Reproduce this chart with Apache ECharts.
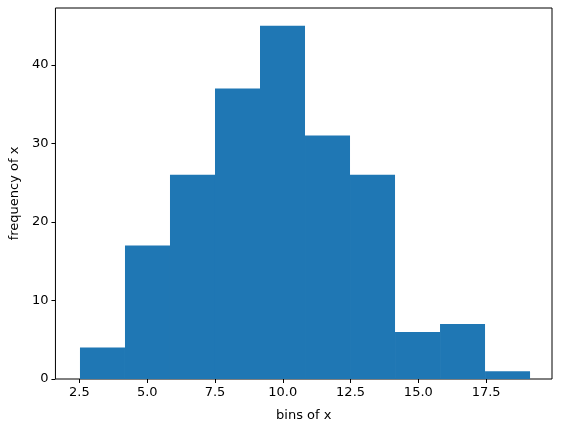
<!DOCTYPE html>
<html><head><meta charset="utf-8">
<script src="https://cdn.jsdelivr.net/npm/echarts@6/dist/echarts.min.js"></script>
<style>html,body{margin:0;padding:0;background:#fff}#c{width:562px;height:432px}</style>
</head><body><div id="c"></div>
<script>
const binEdges = [2.52, 4.18, 5.84, 7.50, 9.16, 10.82, 12.48, 14.14, 15.80, 17.46, 19.12];
const counts = [4, 17, 26, 37, 45, 31, 26, 6, 7, 1];
const xTicks = [2.5, 5.0, 7.5, 10.0, 12.5, 15.0, 17.5];
const yTicks = [0, 10, 20, 30, 40];

const data = counts.map((c, i) => [binEdges[i], binEdges[i + 1], c]);
const font = {fontFamily: 'DejaVu Sans', fontSize: 13, color: '#000'};
const chart = echarts.init(document.getElementById('c'));
chart.setOption({
  animation: false,
  grid: {left: 55, right: 10, top: 8, bottom: 53, show: true, borderColor: '#000', borderWidth: 1, backgroundColor: 'transparent'},
  xAxis: {
    type: 'value', min: 1.615, max: 19.93,
    name: 'bins of x', nameLocation: 'middle', nameGap: 30, nameTextStyle: font,
    axisLine: {show: false}, splitLine: {show: false},
    axisTick: {show: true, customValues: xTicks, length: 4, lineStyle: {color: '#000'}},
    axisLabel: {customValues: xTicks, formatter: v => v.toFixed(1), ...font, margin: 7}
  },
  yAxis: {
    type: 'value', min: 0, max: 47.25,
    name: 'frequency of x', nameLocation: 'middle', nameGap: 33, nameTextStyle: font,
    axisLine: {show: false}, splitLine: {show: false},
    axisTick: {show: true, customValues: yTicks, length: 4, lineStyle: {color: '#000'}},
    axisLabel: {customValues: yTicks, ...font, margin: 7}
  },
  series: [{
    type: 'custom',
    data: data,
    encode: {x: [0, 1], y: 2},
    renderItem: (params, api) => {
      const p0 = api.coord([api.value(0), 0]);
      const p1 = api.coord([api.value(1), api.value(2)]);
      return {type: 'rect', shape: {x: p0[0], y: p1[1], width: p1[0] - p0[0], height: p0[1] - p1[1]},
        style: {fill: '#1f77b4'}};
    }
  }]
});
</script></body></html>
